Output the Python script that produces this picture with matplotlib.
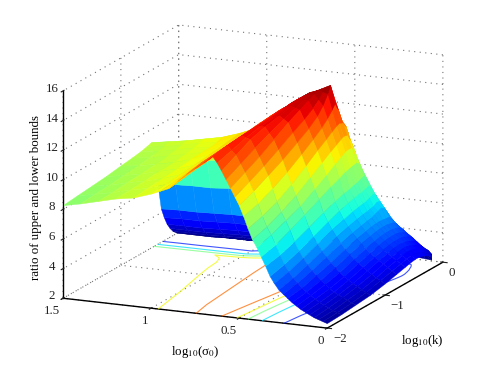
import matplotlib
matplotlib.use("Agg")
import matplotlib.pyplot as plt
import numpy as np

plt.rcParams["font.family"] = ["Liberation Serif", "DejaVu Serif"]
plt.rcParams["mathtext.fontset"] = "stix"
plt.rcParams["font.size"] = 9.3
plt.rcParams["grid.linestyle"] = (0, (1, 4))
plt.rcParams["grid.color"] = "0.45"
plt.rcParams["grid.linewidth"] = 0.8

sigma = [0, .025, .05, .075, .1, .125, .15, .175, .2, .225, .25, .275, .3, .325, .35, .375, .4, .425, .45, .475,
         .5, .525, .55, .575, .6, .625, .65, .675, .7, .75, .8, .85, .9, .95, 1.0, 1.1, 1.2, 1.3, 1.4, 1.5]
logk = [-2, -1.75, -1.5, -1.25, -1, -.8, -.65, -.55, -.47, -.42, -.36, -.3, -.25, -.2, -.15, -.1, -.04, 0]

# one row per sigma, one column per k
ratio = [
    [2.3, 2.35, 2.45, 2.55, 2.75, 2.95, 3.1, 3.2, 3.25, 3.25, 3.2, 3.1, 3.0, 2.85, 2.7, 2.5, 2.2, 2.0],
    [2.4, 2.45, 2.55, 2.7, 2.95, 3.15, 3.3, 3.4, 3.45, 3.45, 3.4, 3.3, 3.2, 3.05, 2.85, 2.65, 2.25, 2.02],
    [2.5, 2.55, 2.7, 2.85, 3.1, 3.35, 3.5, 3.6, 3.65, 3.65, 3.6, 3.5, 3.4, 3.25, 3.1, 2.95, 2.35, 2.05],
    [2.6, 2.7, 2.85, 3.05, 3.3, 3.55, 3.7, 3.8, 3.85, 3.85, 3.8, 3.7, 3.6, 3.45, 3.35, 3.1, 2.45, 2.07],
    [2.75, 2.85, 3.0, 3.2, 3.5, 3.75, 3.9, 4.0, 4.05, 4.05, 4.0, 3.95, 3.85, 3.75, 3.6, 3.3, 2.55, 2.1],
    [2.9, 3.0, 3.15, 3.4, 3.7, 3.95, 4.1, 4.2, 4.25, 4.25, 4.25, 4.2, 4.1, 4.0, 3.85, 3.45, 2.6, 2.12],
    [3.05, 3.2, 3.35, 3.6, 3.95, 4.2, 4.35, 4.45, 4.5, 4.5, 4.5, 4.45, 4.35, 4.25, 4.05, 3.55, 2.65, 2.15],
    [3.25, 3.4, 3.6, 3.85, 4.2, 4.45, 4.6, 4.7, 4.75, 4.75, 4.75, 4.7, 4.65, 4.5, 4.3, 3.7, 2.7, 2.17],
    [3.45, 3.6, 3.85, 4.15, 4.5, 4.75, 4.9, 5.0, 5.05, 5.05, 5.05, 5.0, 4.95, 4.8, 4.5, 3.9, 2.75, 2.2],
    [3.7, 3.85, 4.15, 4.45, 4.8, 5.05, 5.2, 5.3, 5.35, 5.35, 5.35, 5.3, 5.3, 5.1, 4.7, 4.05, 2.8, 2.22],
    [3.95, 4.15, 4.45, 4.8, 5.15, 5.4, 5.55, 5.65, 5.7, 5.8, 5.9, 6.0, 5.9, 5.5, 4.9, 4.2, 2.85, 2.25],
    [4.2, 4.45, 4.8, 5.15, 5.55, 5.8, 5.95, 6.05, 6.1, 6.15, 6.2, 6.35, 6.3, 5.75, 5.1, 4.35, 2.9, 2.27],
    [4.6, 4.85, 5.2, 5.6, 6.0, 6.25, 6.45, 6.55, 6.6, 6.65, 6.75, 6.85, 6.7, 6.0, 5.25, 4.5, 2.95, 2.3],
    [5.05, 5.3, 5.65, 6.05, 6.5, 6.8, 7.0, 7.1, 7.2, 7.2, 7.3, 7.4, 7.2, 6.25, 5.4, 4.6, 3.0, 2.32],
    [5.7, 5.9, 6.25, 6.65, 7.1, 7.4, 7.6, 7.7, 7.8, 7.85, 7.95, 8.05, 7.75, 6.5, 5.55, 4.7, 3.05, 2.35],
    [6.3, 6.55, 7.0, 7.45, 7.95, 8.35, 8.6, 8.8, 8.9, 8.95, 9.0, 8.85, 8.3, 6.7, 5.7, 4.8, 3.1, 2.37],
    [6.9, 7.2, 7.6, 8.0, 8.6, 9.1, 9.5, 9.75, 9.95, 10.0, 10.0, 9.4, 8.95, 6.9, 5.85, 4.9, 3.15, 2.4],
    [7.4, 7.7, 8.15, 8.7, 9.35, 9.9, 10.3, 10.55, 10.75, 10.85, 10.8, 10.3, 9.75, 7.2, 6.0, 5.0, 3.2, 2.42],
    [8.1, 8.4, 8.8, 9.4, 10.1, 10.7, 11.1, 11.4, 11.6, 11.7, 11.6, 11.2, 10.4, 7.5, 6.15, 5.1, 3.25, 2.45],
    [8.9, 9.2, 9.65, 10.2, 10.85, 11.4, 11.85, 12.25, 12.65, 12.95, 12.45, 11.6, 10.9, 7.8, 6.3, 5.15, 3.3, 2.47],
    [9.6, 10.0, 10.5, 11.0, 11.6, 12.1, 12.6, 13.1, 13.7, 14.2, 13.3, 11.9, 11.3, 8.1, 6.4, 5.2, 3.35, 2.5],
    [10.15, 10.6, 11.1, 11.65, 12.25, 12.7, 13.1, 13.45, 13.8, 14.05, 13.2, 12.0, 11.4, 8.3, 6.5, 5.25, 3.35, 2.52],
    [10.7, 11.2, 11.7, 12.3, 12.9, 13.3, 13.6, 13.8, 13.9, 13.9, 13.1, 12.0, 11.4, 8.4, 6.55, 5.3, 3.4, 2.55],
    [11.25, 11.75, 12.25, 12.7, 13.1, 13.4, 13.6, 13.75, 13.8, 13.75, 13.0, 11.9, 11.3, 8.4, 6.6, 5.3, 3.4, 2.57],
    [11.8, 12.3, 12.8, 13.1, 13.3, 13.5, 13.6, 13.7, 13.7, 13.6, 12.9, 11.7, 11.1, 8.4, 6.6, 5.3, 3.4, 2.6],
    [12.3, 12.6, 12.9, 13.1, 13.2, 13.35, 13.45, 13.5, 13.5, 13.4, 12.7, 11.5, 10.9, 8.3, 6.55, 5.25, 3.35, 2.6],
    [12.7, 12.9, 13.0, 13.05, 13.1, 13.2, 13.3, 13.3, 13.3, 13.2, 12.5, 11.3, 10.7, 8.2, 6.45, 5.2, 3.35, 2.6],
    [12.45, 12.65, 12.75, 12.85, 12.9, 13.0, 13.05, 13.1, 13.1, 12.95, 12.25, 11.0, 10.35, 8.0, 6.3, 5.0, 3.2, 2.55],
    [12.2, 12.4, 12.5, 12.6, 12.7, 12.8, 12.85, 12.85, 12.85, 12.7, 12.0, 10.8, 9.9, 7.7, 6.1, 4.8, 3.1, 2.5],
    [11.75, 11.95, 12.05, 12.15, 12.25, 12.35, 12.4, 12.45, 12.45, 12.15, 11.2, 9.35, 7.6, 6.3, 4.9, 3.95, 2.9, 2.4],
    [11.3, 11.5, 11.6, 11.7, 11.8, 11.9, 11.95, 12.0, 12.0, 11.6, 10.4, 8.4, 6.9, 5.6, 4.5, 3.6, 2.7, 2.3],
    [10.75, 10.9, 11.05, 11.15, 11.25, 11.35, 11.4, 11.45, 11.45, 10.8, 9.3, 7.3, 6.0, 4.8, 3.95, 3.25, 2.55, 2.2],
    [10.2, 10.35, 10.5, 10.6, 10.7, 10.8, 10.85, 10.9, 10.9, 10.0, 8.2, 6.2, 5.0, 4.0, 3.4, 2.9, 2.4, 2.1],
    [9.95, 10.05, 10.2, 10.3, 10.4, 10.5, 10.55, 10.6, 10.65, 9.25, 7.3, 5.3, 4.3, 3.55, 3.0, 2.65, 2.25, 2.05],
    [9.7, 9.8, 9.9, 10.0, 10.1, 10.2, 10.3, 10.35, 10.4, 8.5, 6.4, 4.4, 3.7, 3.1, 2.7, 2.4, 2.1, 2.0],
    [9.3, 9.4, 9.5, 9.6, 9.7, 9.75, 9.75, 9.85, 10.0, 8.3, 6.3, 4.4, 3.7, 3.1, 2.7, 2.4, 2.1, 2.0],
    [9.1, 9.15, 9.2, 9.3, 9.35, 9.45, 9.55, 9.65, 9.75, 8.2, 6.2, 4.35, 3.65, 3.05, 2.65, 2.35, 2.1, 2.0],
    [8.8, 8.85, 8.95, 9.0, 9.1, 9.2, 9.3, 9.4, 9.5, 8.1, 6.2, 4.3, 3.6, 3.0, 2.6, 2.3, 2.05, 2.0],
    [8.5, 8.6, 8.65, 8.75, 8.85, 8.95, 9.05, 9.15, 9.3, 8.05, 6.15, 4.3, 3.6, 3.0, 2.6, 2.3, 2.05, 2.0],
    [8.25, 8.35, 8.45, 8.55, 8.7, 8.8, 8.9, 9.0, 9.1, 8.0, 6.1, 4.25, 3.55, 3.0, 2.6, 2.3, 2.05, 2.0],
]

contour_levels = [3.9, 6.2, 8.1, 9.9, 11.8]
sigma_ticks = [0, 0.5, 1, 1.5]
sigma_ticklabels = ["0", "0.5", "1", "1.5"]
k_ticks = [-2, -1, 0]
k_ticklabels = ["\u22122", "\u22121", "0"]
z_ticks = [2, 4, 6, 8, 10, 12, 14, 16]


def main():
    fig = plt.figure(figsize=(4.91, 3.68), dpi=100)
    ax = fig.add_axes([(248 - 184) / 491, (368 - 181.5 - 184) / 368, 368 / 491, 1],
                      projection="3d", computed_zorder=False)
    ax.set_proj_type("ortho")
    ax.view_init(elev=14.7, azim=-66)
    ax.set_box_aspect((290, 285, 215), zoom=1.21)

    ax.set_xlim(1.5, 0, view_margin=0)
    ax.set_ylim(-2, 0, view_margin=0)
    ax.set_zlim(2, 16, view_margin=0)

    K, S = np.meshgrid(logk, sigma)
    Z = np.array(ratio)
    ax.contour(S, K, Z, levels=contour_levels, zdir="z", offset=2, cmap="jet",
               vmin=2, vmax=14.3, linewidths=0.8, alpha=0.75, zorder=1)
    surf = ax.plot_surface(S, K, Z, rstride=1, cstride=1, cmap="jet", vmin=2, vmax=14.3,
                           linewidth=0.3, antialiased=True, shade=False, zorder=2)
    surf.set_edgecolor("face")

    ax.set_xticks(sigma_ticks, sigma_ticklabels)
    ax.set_yticks(k_ticks, k_ticklabels)
    ax.set_zticks(z_ticks)
    ax.zaxis.set_ticks_position("lower")
    ax.zaxis.set_label_position("lower")
    ax.tick_params(axis="x", pad=-4.5, colors="#222222")
    ax.tick_params(axis="y", pad=-5, colors="#222222")
    ax.tick_params(axis="z", pad=-4, colors="#222222")
    for tick in ax.xaxis.get_major_ticks():
        tick.label1.set_ha("right")
    for tick in ax.yaxis.get_major_ticks():
        tick.label1.set_ha("left")
    for tick in ax.zaxis.get_major_ticks():
        tick.label1.set_va("baseline")

    for axis in (ax.xaxis, ax.yaxis, ax.zaxis):
        axis.set_pane_color((1, 1, 1, 0))
        axis.pane.set_edgecolor("none")
        axis.line.set_color("black")
        axis.line.set_linewidth(1.0)

    ax.zaxis.set_rotate_label(False)
    ax.set_zlabel("ratio of upper and lower bounds", rotation=90, labelpad=-11)
    fig.text(195 / 491, 1 - 352 / 368, "log$_{10}$(\u03c3$_0$)", ha="center", va="center")
    fig.text(422 / 491, 1 - 341 / 368, "log$_{10}$(k)", ha="center", va="center")

    fig.savefig("out.png", dpi=100)


if __name__ == "__main__":
    main()
